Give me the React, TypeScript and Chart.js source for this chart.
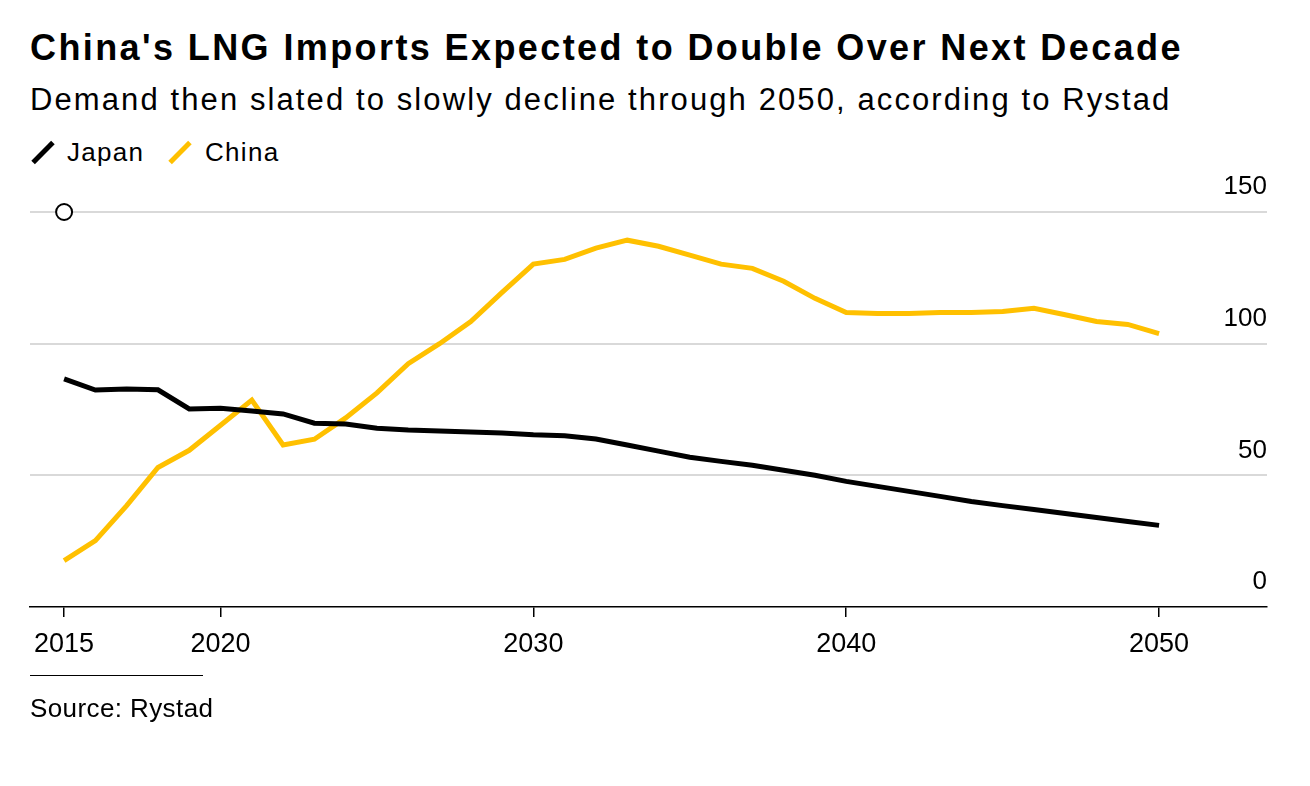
import React, { useEffect, useRef } from "react";
import { Chart, registerables } from "chart.js";

Chart.register(...registerables);

const years: number[] = [
  2015, 2016, 2017, 2018, 2019, 2020, 2021, 2022, 2023, 2024, 2025, 2026,
  2027, 2028, 2029, 2030, 2031, 2032, 2033, 2034, 2035, 2036, 2037, 2038,
  2039, 2040, 2041, 2042, 2043, 2044, 2045, 2046, 2047, 2048, 2049, 2050,
];

const japan: number[] = [
  86.6, 82.4, 82.8, 82.5, 75.2, 75.5, 74.4, 73.3, 69.8, 69.5, 67.9, 67.2,
  66.8, 66.5, 66.1, 65.4, 65.0, 63.8, 61.5, 59.2, 56.9, 55.3, 53.8, 51.9,
  50.0, 47.7, 45.8, 43.9, 42.0, 40.1, 38.5, 37.0, 35.5, 34.0, 32.5, 31.0,
];

const china: number[] = [
  17.6, 25.2, 38.5, 53.0, 59.5, 69.0, 78.6, 61.5, 63.7, 71.8, 81.3, 92.4,
  100.0, 108.4, 119.5, 130.2, 132.0, 136.3, 139.3, 137.0, 133.6, 130.2, 128.6, 123.7,
  117.2, 111.8, 111.5, 111.5, 111.8, 111.8, 112.2, 113.4, 111.0, 108.4, 107.3, 103.8,
];

const marker: { x: number; y: number }[] = [{ x: 2015, y: 150 }];

const xTicks: number[] = [2015, 2020, 2030, 2040, 2050];
const yTicks: number[] = [0, 50, 100, 150];

const FONT = "'Liberation Sans', Arial, Helvetica, sans-serif";
const JAPAN_COLOR = "#000000";
const CHINA_COLOR = "#ffc000";

export default function App() {
  const canvasRef = useRef<HTMLCanvasElement | null>(null);

  useEffect(() => {
    const canvas = canvasRef.current;
    if (!canvas) return;
    const chart = new Chart(canvas, {
      type: "line",
      data: {
        datasets: [
          {
            label: "Japan",
            data: years.map((x, i) => ({ x, y: japan[i] })),
            borderColor: JAPAN_COLOR,
            borderWidth: 5,
            pointRadius: 0,
            tension: 0,
            fill: false,
          },
          {
            label: "China",
            data: years.map((x, i) => ({ x, y: china[i] })),
            borderColor: CHINA_COLOR,
            borderWidth: 5,
            pointRadius: 0,
            tension: 0,
            fill: false,
          },
          {
            label: "marker",
            data: marker,
            showLine: false,
            pointRadius: 8,
            pointBorderWidth: 2,
            pointBorderColor: "#000",
            pointBackgroundColor: "#fff",
            clip: false as any,
          },
        ],
      },
      options: {
        animation: false,
        responsive: false,
        maintainAspectRatio: false,
        events: [],
        layout: { padding: { left: 30, right: 43, top: 52, bottom: 30 } },
        plugins: {
          legend: { display: false },
          tooltip: { enabled: false },
          title: { display: false },
        },
        scales: {
          x: {
            type: "linear",
            min: 2013.91,
            max: 2053.45,
            afterBuildTicks: (scale: any) => {
              scale.ticks = xTicks.map((v) => ({ value: v }));
            },
            afterFit: (scale: any) => {
              scale.height = 63;
            },
            ticks: {
              callback: (v: any) => String(v),
              color: "#000",
              font: { family: FONT, size: 27 },
              padding: 11,
              maxRotation: 0,
              autoSkip: false,
            },
            grid: {
              drawOnChartArea: false,
              drawTicks: true,
              tickLength: 10,
              color: "#000",
              lineWidth: 1.5,
            },
            border: { display: true, color: "#000", width: 1.5 },
          },
          y: {
            position: "right",
            min: 0,
            max: 150,
            afterBuildTicks: (scale: any) => {
              scale.ticks = yTicks.map((v) => ({ value: v }));
            },
            ticks: {
              mirror: true,
              padding: 0,
              labelOffset: -25,
              color: "#000",
              font: { family: FONT, size: 26 },
              callback: (v: any) => String(v),
            },
            grid: {
              drawTicks: false,
              color: (ctx: any) =>
                ctx.tick && ctx.tick.value === 0 ? "rgba(0,0,0,0)" : "#d9d9d9",
              lineWidth: 2,
            },
            border: { display: false },
          },
        },
      },
    });
    return () => chart.destroy();
  }, []);

  const legendIcon = (color: string): React.CSSProperties => ({
    position: "absolute",
    width: 28,
    height: 5,
    background: color,
    transform: "rotate(-45deg)",
  });

  return (
    <div
      style={{
        position: "absolute",
        left: 0,
        top: 0,
        width: 1310,
        height: 786,
        background: "#fff",
        fontFamily: FONT,
        color: "#000",
      }}
    >
      <div
        style={{
          position: "absolute",
          left: 30,
          top: 26,
          fontSize: 36,
          fontWeight: 700,
          letterSpacing: "2.4px",
          lineHeight: "44px",
          whiteSpace: "nowrap",
        }}
      >
        China's LNG Imports Expected to Double Over Next Decade
      </div>
      <div
        style={{
          position: "absolute",
          left: 30,
          top: 80,
          fontSize: 31,
          letterSpacing: "2.1px",
          lineHeight: "40px",
          whiteSpace: "nowrap",
        }}
      >
        Demand then slated to slowly decline through 2050, according to Rystad
      </div>
      <div style={{ position: "absolute", left: 0, top: 136, height: 34, width: 400 }}>
        <div style={{ ...legendIcon(JAPAN_COLOR), left: 29, top: 14 }} />
        <div
          style={{
            position: "absolute",
            left: 67,
            top: 0,
            fontSize: 26,
            letterSpacing: "1.3px",
            lineHeight: "32px",
          }}
        >
          Japan
        </div>
        <div style={{ ...legendIcon(CHINA_COLOR), left: 166, top: 14 }} />
        <div
          style={{
            position: "absolute",
            left: 205,
            top: 0,
            fontSize: 26,
            letterSpacing: "1.3px",
            lineHeight: "32px",
          }}
        >
          China
        </div>
      </div>
      <canvas
        ref={canvasRef}
        width={1310}
        height={540}
        style={{ position: "absolute", left: 0, top: 160, width: 1310, height: 540 }}
      />
      <div
        style={{
          position: "absolute",
          left: 30,
          top: 675,
          width: 173,
          height: 0,
          borderTop: "1px solid #000",
        }}
      />
      <div
        style={{
          position: "absolute",
          left: 30,
          top: 692,
          fontSize: 26,
          letterSpacing: "0.4px",
          lineHeight: "32px",
          whiteSpace: "nowrap",
        }}
      >
        Source: Rystad
      </div>
    </div>
  );
}
